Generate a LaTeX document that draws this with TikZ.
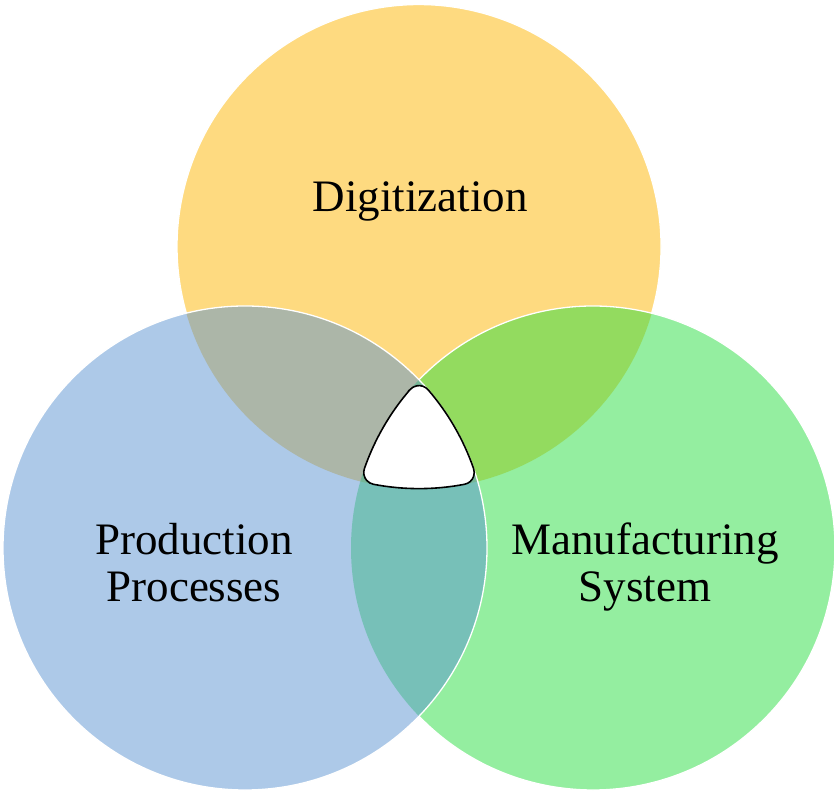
\documentclass[tikz,border=0pt]{standalone}
\usepackage{fontspec}
\setmainfont{Liberation Serif}
\begin{document}
\begin{tikzpicture}[x=1pt,y=1pt,
  venn/.style={fill opacity=0.5},
  rim/.style={draw=white,line width=1.3pt},
  lbl/.style={anchor=base,inner sep=0pt,font=\fontsize{45}{54}\selectfont}]
\definecolor{cyel}{RGB}{253,181,1}
\definecolor{cgrn}{RGB}{41,221,65}
\definecolor{cblu}{RGB}{91,147,209}
\useasboundingbox (0,0) rectangle (834,792);
\coordinate (T) at (419,545.4);
\coordinate (L) at (245,244);
\coordinate (R) at (593,244);
% fills, in stacking order
\fill[venn,fill=cyel] (T) circle[radius=242pt];
\fill[venn,fill=cgrn] (R) circle[radius=242pt];
\fill[venn,fill=cblu] (L) circle[radius=242pt];
% white rims, only where each circle lies on top
\draw[rim] ([shift={(-15.97:242pt)}]T) arc[start angle=-15.97,end angle=195.97,radius=242pt];
\draw[rim] ([shift={(-135.97:242pt)}]R) arc[start angle=-135.97,end angle=135.97,radius=242pt];
\draw[rim] (L) circle[radius=242pt];
% central region: intersection of the three discs, corners rounded
\draw[fill=white,draw=black,line width=1.6pt]
  ([shift={(139.16:242pt)}]R)
  arc[start angle=139.16,end angle=160.84,radius=242pt]
  arc[start angle=160.84,end angle=259.16,radius=12pt]
  arc[start angle=259.16,end angle=280.84,radius=242pt]
  arc[start angle=280.84,end angle=379.16,radius=12pt]
  arc[start angle=19.16,end angle=40.84,radius=242pt]
  arc[start angle=40.84,end angle=139.16,radius=12pt]
  -- cycle;
\node[lbl] (dig) at (420,580) {Digitization};
\node[lbl] (prod1) at (194,237) {Production};
\node[lbl] (prod2) at (194,190) {Processes};
\node[lbl] (man1) at (645,237) {Manufacturing};
\node[lbl] (man2) at (645,190) {System};
\end{tikzpicture}
\end{document}
